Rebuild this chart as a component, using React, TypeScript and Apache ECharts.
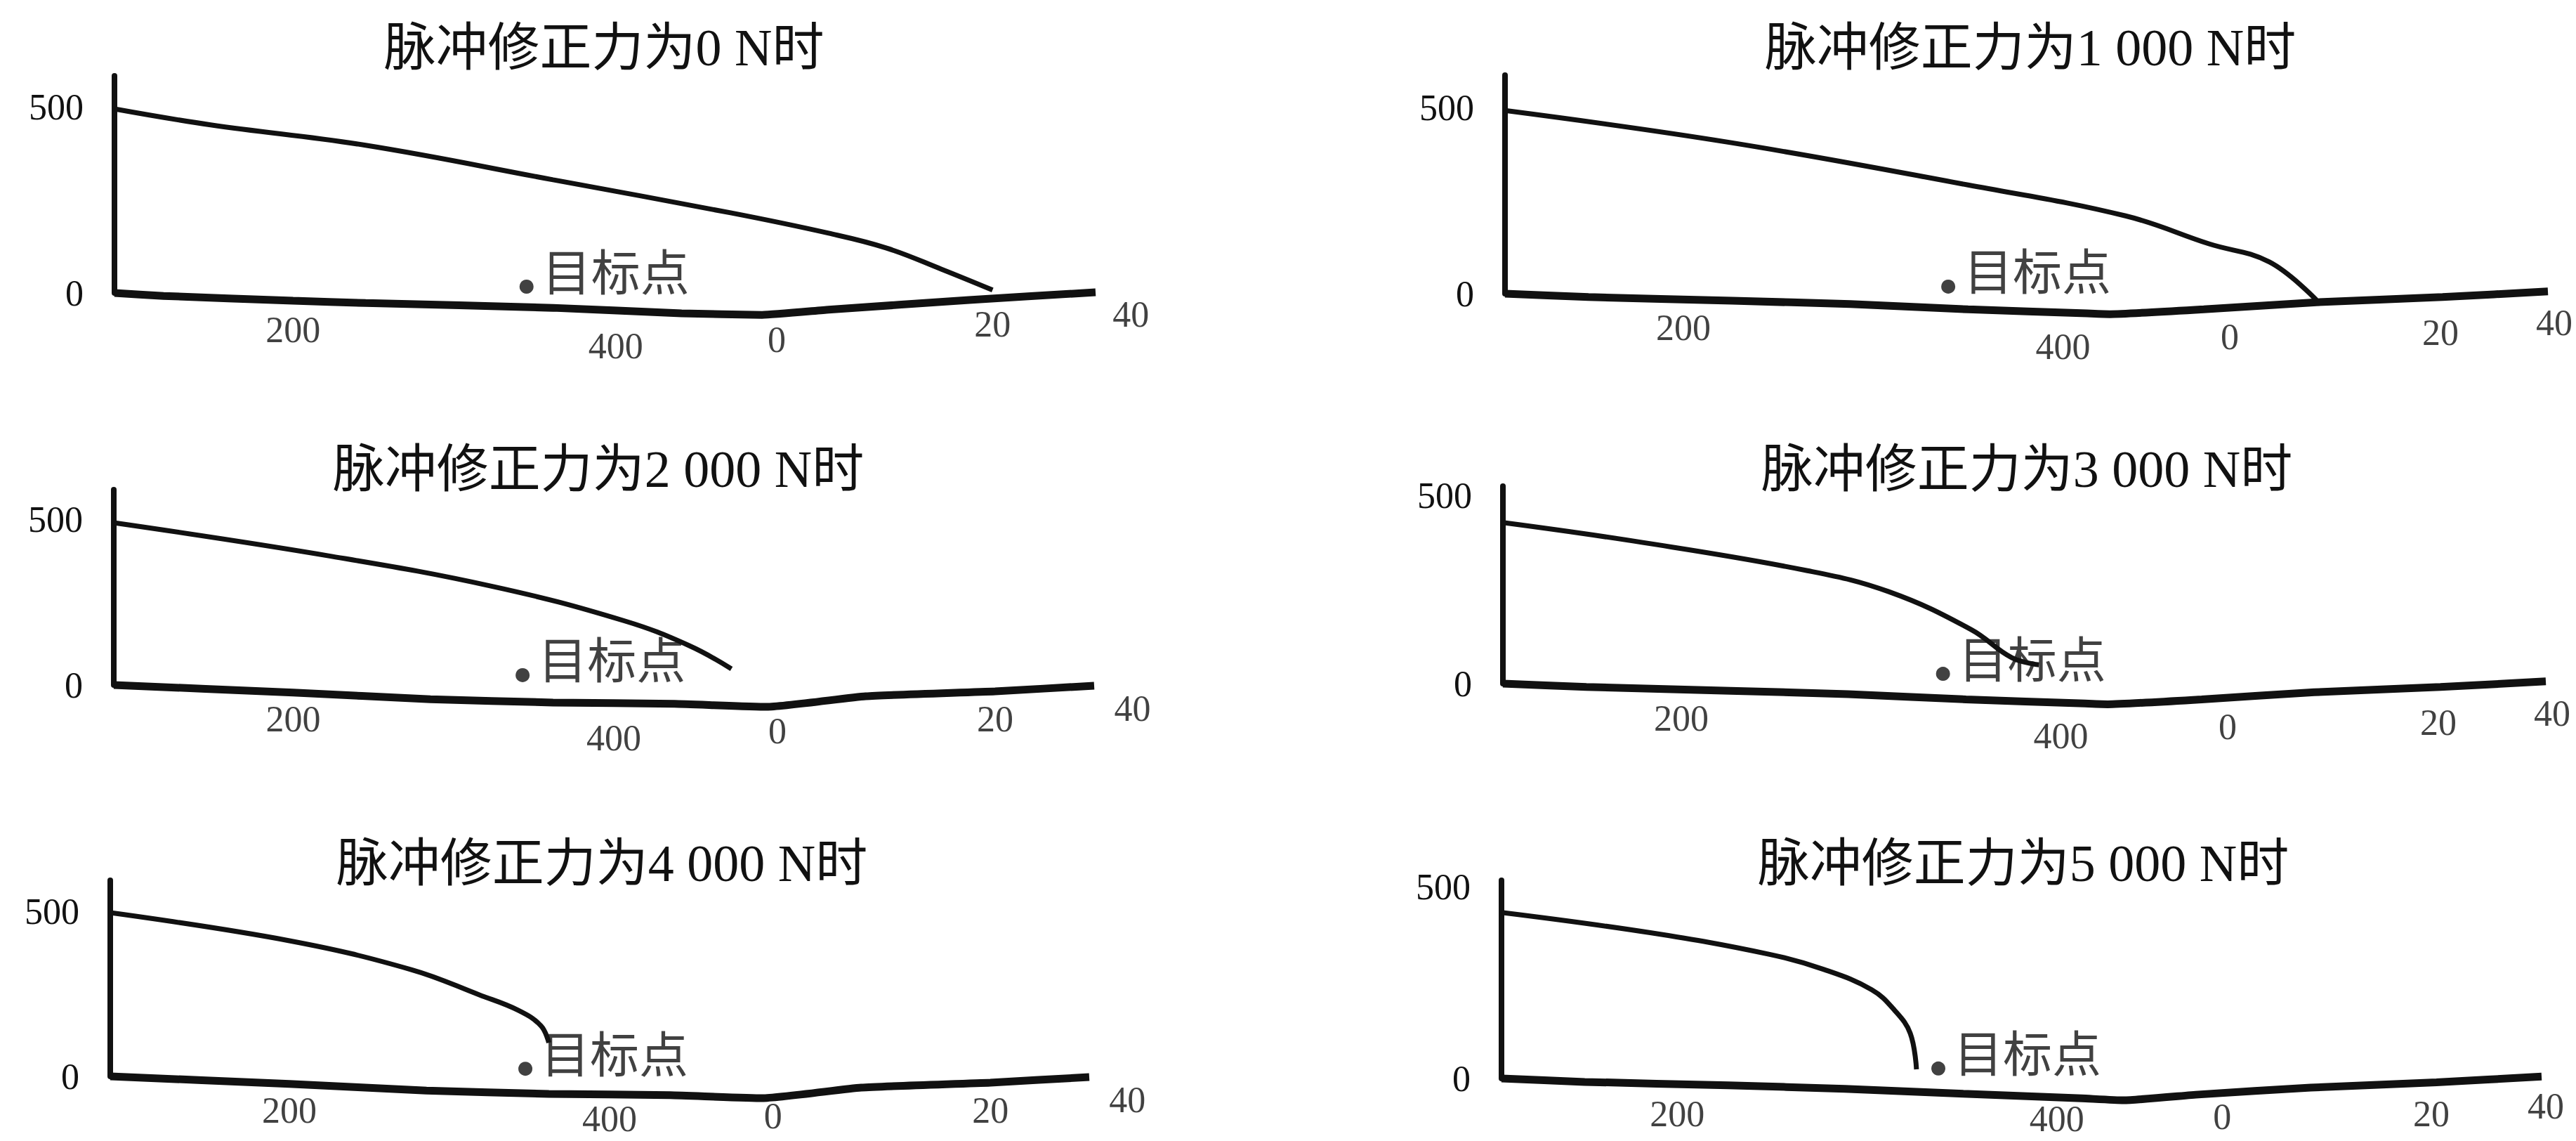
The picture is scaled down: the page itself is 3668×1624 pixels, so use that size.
import React, { useEffect, useRef } from "react";
import * as echarts from "echarts";

// ---------- DATA ----------
const TITLES = [
  "脉冲修正力为0 N时",
  "脉冲修正力为1 000 N时",
  "脉冲修正力为2 000 N时",
  "脉冲修正力为3 000 N时",
  "脉冲修正力为4 000 N时",
  "脉冲修正力为5 000 N时",
];
const Y_TICKS = [0, 500];
const TARGET_LABEL = "目标点";
const BASE_TICK_LABELS = ["200", "400", "0", "20", "40"];

// trajectories: projected horizontal position (% of base width), altitude
const traj1X = [0, 9.8, 25.6, 44.7, 62.8, 72.8, 78.7, 84.3, 89.5];
const traj1Y = [496, 453, 398, 305, 216, 161, 121, 64, 8];
const traj2X = [0, 21.6, 44.4, 59.5, 67.5, 73.3, 77.8];
const traj2Y = [492, 406, 292, 209, 134, 85, -17];
const traj3X = [0, 21.9, 38.7, 52.1, 58.7, 63.0];
const traj3Y = [491, 391, 298, 194, 119, 49];
const traj4X = [0, 13.4, 29.2, 37.0, 44.9, 48.8, 51.4];
const traj4Y = [429, 376, 301, 245, 144, 69, 50];
const traj5X = [0, 18.3, 30.8, 37.7, 41.7, 44.0, 44.8];
const traj5Y = [496, 411, 323, 247, 200, 153, 102];
const traj6X = [0, 14.3, 25.7, 31.0, 35.6, 37.8, 39.3, 39.9];
const traj6Y = [434, 381, 325, 285, 232, 178, 118, 24];

// projected base axes (ground lines)
const base1X = [0, 5, 18.2, 25.6, 44.7, 57.8, 66, 72.8, 87.1, 100];
const base1Y = [0, -8, -21, -27, -40, -55, -59, -45, -19, 2];
const base2X = [0, 8, 21.8, 33.1, 44.4, 55.8, 58, 67, 77.8, 89.9, 100];
const base2Y = [0, -9, -19, -28, -42, -53, -55, -42, -23, -9, 6];
const base3X = [0, 18.3, 32.3, 44.8, 57.2, 66.6, 76.7, 89.9, 100];
const base3Y = [0, -23, -43, -53, -57, -66, -34, -19, -2];
const base4X = [0, 8, 21.8, 33.1, 44.4, 55.8, 58, 67, 77.8, 89.9, 100];
const base4Y = [0, -9, -19, -28, -42, -53, -55, -42, -23, -9, 6];
const base5X = [0, 18.3, 32.3, 44.8, 57.2, 66.6, 76.7, 89.9, 100];
const base5Y = [0, -23, -43, -53, -57, -66, -34, -19, -2];
const base6X = [0, 8, 21.8, 33, 44.4, 55.8, 59.8, 67, 77.8, 89.9, 100];
const base6Y = [0, -9, -18, -27, -40, -52, -57, -42, -24, -10, 5];

// base tick label anchors
const tick1X = [18.2, 51.1, 67.5, 89.5, 103.6];
const tick1Y = [-100, -142, -125, -85, -57];
const tick2X = [17.1, 53.5, 69.5, 89.7, 100.6];
const tick2Y = [-92, -142, -117, -104, -79];
const tick3X = [18.3, 51.0, 67.7, 89.9, 103.9];
const tick3Y = [-104, -160, -140, -104, -72];
const tick4X = [17.1, 53.5, 69.5, 89.7, 100.6];
const tick4Y = [-92, -140, -116, -103, -79];
const tick5X = [18.3, 51.0, 67.7, 89.9, 103.9];
const tick5Y = [-104, -128, -120, -104, -72];
const tick6X = [16.9, 53.4, 69.3, 89.4, 100.4];
const tick6Y = [-92, -106, -100, -92, -72];

// target point per panel
const targetX = [42.0, 42.5, 41.7, 42.2, 42.4, 42.0];
const targetY = [17, 19, 30, 26, 23, 26];

// altitude axis extent per panel
const Y_MAX = [585, 587, 591, 526, 594, 518];

const TRAJ_X = [traj1X, traj2X, traj3X, traj4X, traj5X, traj6X];
const TRAJ_Y = [traj1Y, traj2Y, traj3Y, traj4Y, traj5Y, traj6Y];
const BASE_X = [base1X, base2X, base3X, base4X, base5X, base6X];
const BASE_Y = [base1Y, base2Y, base3Y, base4Y, base5Y, base6Y];
const TICK_X = [tick1X, tick2X, tick3X, tick4X, tick5X, tick6X];
const TICK_Y = [tick1Y, tick2Y, tick3Y, tick4Y, tick5Y, tick6Y];

// ---------- LAYOUT ----------
const BOXES = [
  { left: 163, top: 108, width: 1397, height: 309, tx: 860, ty: 68 },
  { left: 2143, top: 107, width: 1485, height: 311, tx: 2891, ty: 68 },
  { left: 162, top: 697, width: 1396, height: 278, tx: 852, ty: 668 },
  { left: 2140, top: 692, width: 1485, height: 281, tx: 2886, ty: 668 },
  { left: 157, top: 1253, width: 1394, height: 279, tx: 857, ty: 1229 },
  { left: 2138, top: 1253, width: 1481, height: 282, tx: 2881, ty: 1229 },
];

const INK = "#111111";
const FONT = '"Liberation Serif", "Noto Sans CJK SC", serif';

const zip = (xs: number[], ys: number[]) => xs.map((x, i) => [x, ys[i]]);

export default function App() {
  const ref = useRef<HTMLDivElement>(null);
  useEffect(() => {
    document.body.style.margin = "0";
    if (!ref.current) return;
    const chart = echarts.init(ref.current, null, { renderer: "svg" });

    const grid: any[] = [];
    const xAxis: any[] = [];
    const yAxis: any[] = [];
    const series: any[] = [];
    const graphic: any[] = [];

    BOXES.forEach((b, i) => {
      grid.push({ left: b.left, top: b.top, width: b.width, height: b.height, containLabel: false });
      xAxis.push({ type: "value", gridIndex: i, min: 0, max: 100, show: false });
      yAxis.push({
        type: "value",
        gridIndex: i,
        min: 0,
        max: Y_MAX[i],
        interval: 500,
        axisLine: { show: true, onZero: false, lineStyle: { color: INK, width: 8 } },
        axisTick: { show: false },
        splitLine: { show: false },
        axisLabel: {
          show: true,
          margin: 44,
          fontSize: 52,
          fontFamily: FONT,
          color: INK,
          showMaxLabel: false,
          formatter: (v: number) => (Y_TICKS.includes(v) ? String(v) : ""),
        },
      });
      // base axes
      series.push({
        type: "line",
        xAxisIndex: i,
        yAxisIndex: i,
        data: zip(BASE_X[i], BASE_Y[i]),
        showSymbol: false,
        clip: false,
        smooth: 0.15,
        lineStyle: { color: INK, width: 11 },
        silent: true,
      });
      // trajectory
      series.push({
        type: "line",
        xAxisIndex: i,
        yAxisIndex: i,
        data: zip(TRAJ_X[i], TRAJ_Y[i]),
        showSymbol: false,
        clip: false,
        smooth: 0.4,
        lineStyle: { color: INK, width: 7 },
        silent: true,
      });
      // target point
      series.push({
        type: "scatter",
        xAxisIndex: i,
        yAxisIndex: i,
        data: [[targetX[i], targetY[i]]],
        symbolSize: 20,
        clip: false,
        itemStyle: { color: INK },
        label: {
          show: true,
          position: "right",
          distance: 12,
          offset: [0, -18],
          formatter: TARGET_LABEL,
          fontSize: 70,
          fontFamily: FONT,
          color: INK,
        },
        silent: true,
      });
      // base tick labels
      series.push({
        type: "scatter",
        xAxisIndex: i,
        yAxisIndex: i,
        data: TICK_X[i].map((x, k) => ({ value: [x, TICK_Y[i][k]], name: BASE_TICK_LABELS[k] })),
        symbolSize: 0,
        clip: false,
        label: {
          show: true,
          position: "inside",
          formatter: "{b}",
          fontSize: 52,
          fontFamily: FONT,
          color: INK,
        },
        silent: true,
      });
      graphic.push({
        type: "text",
        x: b.tx,
        y: b.ty,
        style: {
          text: TITLES[i],
          fontSize: 74,
          fontFamily: FONT,
          fill: INK,
          textAlign: "center",
          textVerticalAlign: "middle",
        },
      });
    });

    chart.setOption({
      animation: false,
      backgroundColor: "#ffffff",
      grid,
      xAxis,
      yAxis,
      series,
      graphic,
    });
    return () => chart.dispose();
  }, []);
  return <div ref={ref} style={{ width: 3668, height: 1624 }} />;
}
